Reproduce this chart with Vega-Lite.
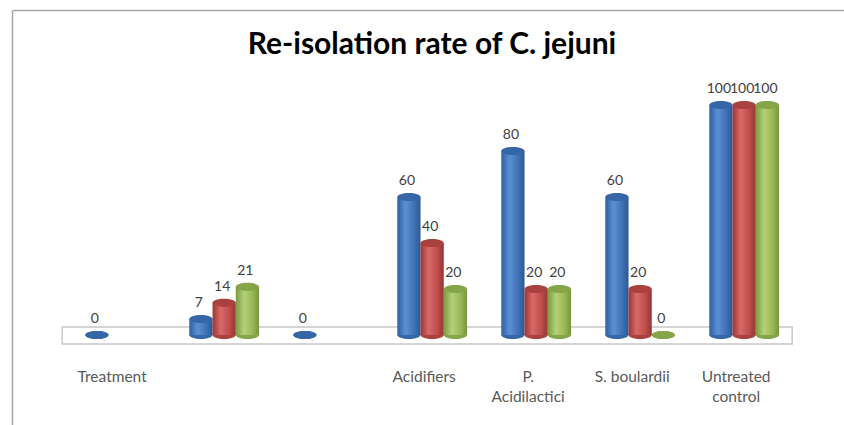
{
  "$schema": "https://vega.github.io/schema/vega-lite/v6.json",
  "width": 832,
  "height": 415,
  "autosize": {"type": "none"},
  "padding": {"left": 12, "top": 10, "right": 0, "bottom": 0},
  "background": "white",
  "config": {"view": {"stroke": null}, "font": "Lato"},
  "title": {"text": "Re-isolation rate of C. jejuni", "font": "Lato", "fontSize": 30, "fontWeight": "bold", "color": "#000000", "anchor": "middle", "frame": "group", "offset": -80, "baseline": "bottom", "dx": 4},
  "data": {"values": [
    {"group": "Treatment", "series": "Series 1", "rate": 0},
    {"group": " ", "series": "Series 1", "rate": 7},
    {"group": " ", "series": "Series 2", "rate": 14},
    {"group": " ", "series": "Series 3", "rate": 21},
    {"group": "  ", "series": "Series 1", "rate": 0},
    {"group": "Acidifiers", "series": "Series 1", "rate": 60},
    {"group": "Acidifiers", "series": "Series 2", "rate": 40},
    {"group": "Acidifiers", "series": "Series 3", "rate": 20},
    {"group": "P. Acidilactici", "series": "Series 1", "rate": 80},
    {"group": "P. Acidilactici", "series": "Series 2", "rate": 20},
    {"group": "P. Acidilactici", "series": "Series 3", "rate": 20},
    {"group": "S. boulardii", "series": "Series 1", "rate": 60},
    {"group": "S. boulardii", "series": "Series 2", "rate": 20},
    {"group": "S. boulardii", "series": "Series 3", "rate": 0},
    {"group": "Untreated control", "series": "Series 1", "rate": 100},
    {"group": "Untreated control", "series": "Series 2", "rate": 100},
    {"group": "Untreated control", "series": "Series 3", "rate": 100}
  ]},
  "layer": [
    {
      "data": {"values": [{"part": "floor"}]},
      "mark": {"type": "rect", "fill": "white", "stroke": "#c8c8c8", "strokeWidth": 1.5, "xOffset": -58, "x2Offset": 48},
      "encoding": {
        "x": {"datum": "Treatment", "type": "nominal", "sort": ["Treatment", " ", "  ", "Acidifiers", "P. Acidilactici", "S. boulardii", "Untreated control"], "scale": {"paddingInner": 0.33, "paddingOuter": 0.665, "align": 0.53}, "axis": null},
        "x2": {"datum": "Untreated control"},
        "y": {"datum": -3.9, "type": "quantitative", "scale": {"domain": [-39.1, 141.3], "nice": false, "zero": false}, "axis": {"orient": "left", "domain": true, "domainColor": "#a6a6a6", "domainWidth": 1.5, "ticks": false, "labels": false, "grid": false, "title": null}},
        "y2": {"datum": 3.5}
      }
    },
    {
      "mark": {"type": "point", "shape": "M-1,0A1,0.35,0,1,0,1,0A1,0.35,0,1,0,-1,0Z", "size": 538, "filled": true, "opacity": 1, "strokeWidth": 0},
      "encoding": {
        "x": {"field": "group", "type": "nominal", "sort": ["Treatment", " ", "  ", "Acidifiers", "P. Acidilactici", "S. boulardii", "Untreated control"], "axis": null},
        "xOffset": {"field": "series", "type": "nominal", "scale": {"domain": ["Series 1", "Series 2", "Series 3"], "paddingInner": 0, "paddingOuter": 0}},
        "y": {"datum": 0, "type": "quantitative", "axis": {"orient": "left", "domain": true, "domainColor": "#a6a6a6", "domainWidth": 1.5, "ticks": false, "labels": false, "grid": false, "title": null}},
        "color": {"field": "series", "type": "nominal", "scale": {"domain": ["Series 1", "Series 2", "Series 3"], "range": ["#3566a8", "#a9423f", "#86a548"]}, "legend": null}
      }
    },
    {
      "transform": [{"filter": "datum.series == 'Series 1'"}],
      "mark": {"type": "bar", "color": {"gradient": "linear", "x1": 0, "x2": 1, "y1": 0, "y2": 0, "stops": [{"offset": 0, "color": "#2f5f9e"}, {"offset": 0.35, "color": "#5b8fd4"}, {"offset": 0.7, "color": "#4273b8"}, {"offset": 1, "color": "#2c5894"}]}},
      "encoding": {
        "x": {"field": "group", "type": "nominal", "sort": ["Treatment", " ", "  ", "Acidifiers", "P. Acidilactici", "S. boulardii", "Untreated control"], "axis": {"orient": "bottom", "offset": -58, "domain": false, "ticks": false, "labelPadding": 2, "labelFont": "Lato", "labelFontSize": 15.5, "labelColor": "#595959", "labelAngle": 0, "labelOffset": -8, "labelLineHeight": 20, "labelBaseline": "top", "labelExpr": "datum.label == 'P. Acidilactici' ? ['P.', 'Acidilactici'] : datum.label == 'Untreated control' ? ['Untreated', 'control'] : datum.label", "title": null}},
        "xOffset": {"field": "series", "type": "nominal", "scale": {"domain": ["Series 1", "Series 2", "Series 3"], "paddingInner": 0, "paddingOuter": 0}},
        "y": {"field": "rate", "type": "quantitative", "axis": {"orient": "left", "domain": true, "domainColor": "#a6a6a6", "domainWidth": 1.5, "ticks": false, "labels": false, "grid": false, "title": null}},
        "y2": {"datum": 0}
      }
    },
    {
      "transform": [{"filter": "datum.series == 'Series 2'"}],
      "mark": {"type": "bar", "color": {"gradient": "linear", "x1": 0, "x2": 1, "y1": 0, "y2": 0, "stops": [{"offset": 0, "color": "#9c3633"}, {"offset": 0.35, "color": "#d96a66"}, {"offset": 0.7, "color": "#c0504d"}, {"offset": 1, "color": "#973431"}]}},
      "encoding": {
        "x": {"field": "group", "type": "nominal", "sort": ["Treatment", " ", "  ", "Acidifiers", "P. Acidilactici", "S. boulardii", "Untreated control"], "axis": null},
        "xOffset": {"field": "series", "type": "nominal", "scale": {"domain": ["Series 1", "Series 2", "Series 3"], "paddingInner": 0, "paddingOuter": 0}},
        "y": {"field": "rate", "type": "quantitative", "axis": {"orient": "left", "domain": true, "domainColor": "#a6a6a6", "domainWidth": 1.5, "ticks": false, "labels": false, "grid": false, "title": null}},
        "y2": {"datum": 0}
      }
    },
    {
      "transform": [{"filter": "datum.series == 'Series 3'"}],
      "mark": {"type": "bar", "color": {"gradient": "linear", "x1": 0, "x2": 1, "y1": 0, "y2": 0, "stops": [{"offset": 0, "color": "#7a9a3c"}, {"offset": 0.35, "color": "#b4d17a"}, {"offset": 0.7, "color": "#9bbb59"}, {"offset": 1, "color": "#76953a"}]}},
      "encoding": {
        "x": {"field": "group", "type": "nominal", "sort": ["Treatment", " ", "  ", "Acidifiers", "P. Acidilactici", "S. boulardii", "Untreated control"], "axis": null},
        "xOffset": {"field": "series", "type": "nominal", "scale": {"domain": ["Series 1", "Series 2", "Series 3"], "paddingInner": 0, "paddingOuter": 0}},
        "y": {"field": "rate", "type": "quantitative", "axis": {"orient": "left", "domain": true, "domainColor": "#a6a6a6", "domainWidth": 1.5, "ticks": false, "labels": false, "grid": false, "title": null}},
        "y2": {"datum": 0}
      }
    },
    {
      "mark": {"type": "point", "shape": "M-1,0A1,0.35,0,1,0,1,0A1,0.35,0,1,0,-1,0Z", "size": 538, "filled": true, "opacity": 1, "strokeWidth": 0},
      "encoding": {
        "x": {"field": "group", "type": "nominal", "sort": ["Treatment", " ", "  ", "Acidifiers", "P. Acidilactici", "S. boulardii", "Untreated control"], "axis": null},
        "xOffset": {"field": "series", "type": "nominal", "scale": {"domain": ["Series 1", "Series 2", "Series 3"], "paddingInner": 0, "paddingOuter": 0}},
        "y": {"field": "rate", "type": "quantitative", "axis": {"orient": "left", "domain": true, "domainColor": "#a6a6a6", "domainWidth": 1.5, "ticks": false, "labels": false, "grid": false, "title": null}},
        "color": {"field": "series", "type": "nominal", "scale": {"domain": ["Series 1", "Series 2", "Series 3"], "range": ["#3b6fb5", "#b84a47", "#91b150"]}, "legend": null}
      }
    },
    {
      "mark": {"type": "text", "font": "Lato", "fontSize": 14, "color": "#404040", "baseline": "alphabetic", "dy": -12, "dx": -2},
      "encoding": {
        "x": {"field": "group", "type": "nominal", "sort": ["Treatment", " ", "  ", "Acidifiers", "P. Acidilactici", "S. boulardii", "Untreated control"], "axis": {"orient": "top", "domain": true, "domainColor": "#a6a6a6", "domainWidth": 1.5, "domainCap": "butt", "ticks": false, "labels": false, "grid": false, "title": null, "labelBound": false, "labelOverlap": false}},
        "xOffset": {"field": "series", "type": "nominal", "scale": {"domain": ["Series 1", "Series 2", "Series 3"], "paddingInner": 0, "paddingOuter": 0}},
        "y": {"field": "rate", "type": "quantitative", "axis": {"orient": "left", "domain": true, "domainColor": "#a6a6a6", "domainWidth": 1.5, "ticks": false, "labels": false, "grid": false, "title": null}},
        "text": {"field": "rate", "type": "quantitative"}
      }
    }
  ],
  "resolve": {"axis": {"x": "independent"}}
}
